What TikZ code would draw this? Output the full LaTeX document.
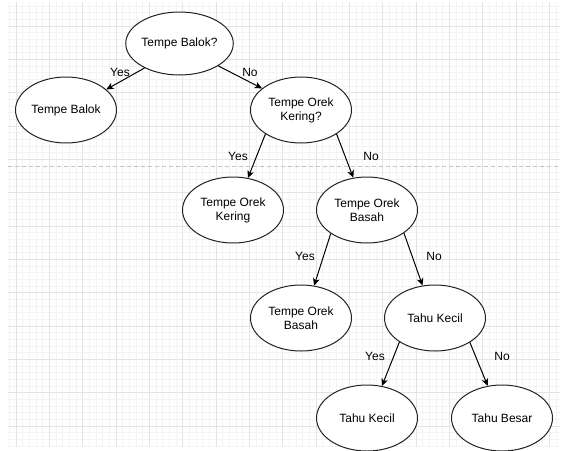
\documentclass[tikz,border=0pt]{standalone}
\usepackage{fontspec}
\setmainfont{Liberation Sans}
\usetikzlibrary{shapes.geometric,arrows.meta}
\definecolor{gridminor}{HTML}{F3F3F3}
\definecolor{gridmajor}{HTML}{E4E4E4}
\definecolor{dashgray}{HTML}{C4C4C4}
\definecolor{inkline}{HTML}{222222}
\tikzset{
  decision/.style={ellipse, draw=inkline, line width=0.75pt, fill=white,
    inner sep=0pt, minimum width=75.75pt, minimum height=49.5pt,
    align=center, font=\fontsize{9}{10.5}\selectfont},
  rootnode/.style={decision, minimum width=69.75pt, minimum height=47.25pt},
  branch/.style={draw=black, line width=0.75pt,
    -{Stealth[length=5.5pt,width=5pt,inset=1.5pt]}},
  answer/.style={font=\fontsize{9}{10.5}\selectfont, inner sep=0pt},
}
\begin{document}
\begin{tikzpicture}[x=0.75pt,y=-0.75pt]
  % page background and bounds
  \fill[white] (0,0) rectangle (573,450);
  \useasboundingbox (0,0) rectangle (573,450);

  % grid paper: minor lines every 6.67 px, major every 33.3 px
  \foreach \k in {-1,...,81} {
    \draw[gridminor, line width=0.75pt] ({16+6.6667*\k},2) -- ({16+6.6667*\k},447);
  }
  \foreach \k in {-3,...,63} {
    \draw[gridminor, line width=0.75pt] (8,{26+6.6667*\k}) -- (560,{26+6.6667*\k});
  }
  \foreach \k in {0,...,16} {
    \draw[gridmajor, line width=0.75pt] ({16+33.3333*\k},2) -- ({16+33.3333*\k},447);
  }
  \foreach \k in {0,...,12} {
    \draw[gridmajor, line width=0.75pt] (8,{26+33.3333*\k}) -- (560,{26+33.3333*\k});
  }

  % dashed separator across the page
  \coordinate (sepL) at (8,166.7);
  \coordinate (sepR) at (560,166.7);
  \draw[dashgray, line width=0.9pt, dash pattern=on 3pt off 2.25pt] (sepL) -- (sepR);

  % decision tree nodes
  \node[rootnode] (root) at (179.5,43.5) {Tempe Balok?};
  \node[decision] (balok) at (66,110) {Tempe Balok};
  \node[decision] (qkering) at (301,110) {Tempe Orek\\Kering?};
  \node[decision] (kering) at (233,210) {Tempe Orek\\Kering};
  \node[decision] (qbasah) at (367,210) {Tempe Orek\\Basah};
  \node[decision] (basah) at (301,318) {Tempe Orek\\Basah};
  \node[decision] (qkecil) at (435,318) {Tahu Kecil};
  \node[decision] (kecil) at (367,418) {Tahu Kecil};
  \node[decision] (besar) at (502,418) {Tahu Besar};

  % branches
  \draw[branch] (root.215.9) -- (balok.27.1);
  \draw[branch] (root.-30.3) -- (qkering.151.7);
  \draw[branch] (qkering.214.8) -- (kering.65.6);
  \draw[branch] (qkering.-34.8) -- (qbasah.113);
  \draw[branch] (qbasah.213.3) -- (basah.68.5);
  \draw[branch] (qbasah.-32.6) -- (qkecil.111.5);
  \draw[branch] (qkecil.214.8) -- (kecil.65.6);
  \draw[branch] (qkecil.-35.5) -- (besar.114.4);

  % branch answers
  \node[answer] (l1) at (120,72) {Yes};
  \node[answer] (l2) at (250,72) {No};
  \node[answer] (l3) at (238,156) {Yes};
  \node[answer] (l4) at (371,156) {No};
  \node[answer] (l5) at (305,256) {Yes};
  \node[answer] (l6) at (434,256) {No};
  \node[answer] (l7) at (375,356) {Yes};
  \node[answer] (l8) at (502,356) {No};
\end{tikzpicture}
\end{document}
